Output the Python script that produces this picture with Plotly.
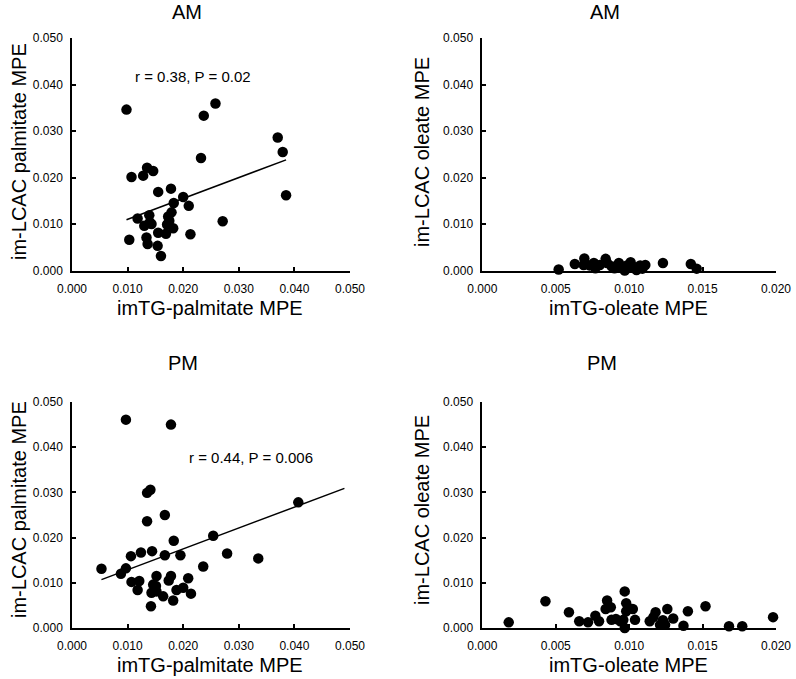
import plotly.graph_objects as go

W, H = 796, 679

# ---------------- data ----------------
am_pal_x = [0.0098, 0.0258, 0.0237, 0.0370, 0.0379, 0.0232, 0.0385, 0.0107, 0.0128, 0.0135,
            0.0146, 0.0155, 0.0178, 0.0200, 0.0183, 0.0210, 0.0118, 0.0139, 0.0179, 0.0173,
            0.0130, 0.0143, 0.0171, 0.0182, 0.0271, 0.0155, 0.0169, 0.0213, 0.0103, 0.0134,
            0.0136, 0.0154, 0.0160, 0.0140, 0.0175]
am_pal_y = [0.0346, 0.0359, 0.0333, 0.0286, 0.0255, 0.0242, 0.0162, 0.0201, 0.0204, 0.0221,
            0.0214, 0.0169, 0.0176, 0.0158, 0.0145, 0.0139, 0.0112, 0.0119, 0.0125, 0.0116,
            0.0096, 0.0100, 0.0099, 0.0091, 0.0106, 0.0081, 0.0079, 0.0078, 0.0066, 0.0071,
            0.0057, 0.0053, 0.0031, 0.0104, 0.0107]
am_pal_fit_x = [0.0098, 0.0385]
am_pal_fit_y = [0.0109, 0.0238]

am_ole_x = [0.0052, 0.0063, 0.00695, 0.0069, 0.0076, 0.0077, 0.0084, 0.0085, 0.0088, 0.0093,
            0.0095, 0.0097, 0.0101, 0.0103, 0.01075, 0.0109, 0.0111, 0.0123, 0.0142, 0.0146,
            0.0073, 0.0080, 0.0090, 0.0105, 0.00985]
am_ole_y = [0.0002, 0.0014, 0.0026, 0.0012, 0.0016, 0.0005, 0.0025, 0.0016, 0.0009, 0.0016,
            0.0007, 0.0000, 0.0018, 0.0007, 0.0011, 0.0004, 0.0012, 0.0016, 0.0014, 0.0004,
            0.0011, 0.0012, 0.0005, 0.0001, 0.0011]

pm_pal_x = [0.0097, 0.0178, 0.0141, 0.0135, 0.0167, 0.0135, 0.0407, 0.0254, 0.0183, 0.0279,
            0.0335, 0.0106, 0.0124, 0.0144, 0.0167, 0.0195, 0.0236, 0.0053, 0.0097, 0.0088,
            0.0107, 0.0121, 0.0152, 0.0178, 0.0174, 0.0209, 0.0118, 0.0146, 0.0151, 0.0143,
            0.0152, 0.0164, 0.0182, 0.0188, 0.0200, 0.0214, 0.0142]
pm_pal_y = [0.0461, 0.0450, 0.0306, 0.0299, 0.0250, 0.0236, 0.0278, 0.0204, 0.0193, 0.0165,
            0.0154, 0.0159, 0.0167, 0.0170, 0.0161, 0.0161, 0.0136, 0.0131, 0.0132, 0.0120,
            0.0102, 0.0104, 0.0115, 0.0115, 0.0105, 0.0110, 0.0084, 0.0096, 0.0093, 0.0078,
            0.0081, 0.0070, 0.0061, 0.0084, 0.0089, 0.0076, 0.0048]
pm_pal_fit_x = [0.0053, 0.0490]
pm_pal_fit_y = [0.0107, 0.0309]

pm_ole_x = [0.0018, 0.0043, 0.0059, 0.0066, 0.0072, 0.0077, 0.00795, 0.0085, 0.0084, 0.00875,
            0.0088, 0.0091, 0.0097, 0.0098, 0.00995, 0.01025, 0.0098, 0.0104, 0.0097, 0.0096,
            0.0114, 0.0118, 0.01165, 0.0121, 0.0123, 0.01245, 0.0126, 0.0130, 0.0137, 0.0140,
            0.0152, 0.0168, 0.0177, 0.0198, 0.0094]
pm_ole_y = [0.00125, 0.0059, 0.0035, 0.0015, 0.00125, 0.0027, 0.0015, 0.0061, 0.0042, 0.0046,
            0.0018, 0.0020, 0.0081, 0.0055, 0.0044, 0.0042, 0.0037, 0.0018, 0.0000, 0.0018,
            0.0015, 0.0035, 0.0024, 0.0007, 0.0017, 0.0007, 0.0042, 0.0021, 0.0005, 0.0037,
            0.0048, 0.0004, 0.0004, 0.0024, 0.0015]

titles = ["AM", "AM", "PM", "PM"]
x_titles = ["imTG-palmitate MPE", "imTG-oleate MPE", "imTG-palmitate MPE", "imTG-oleate MPE"]
y_titles = ["im-LCAC palmitate MPE", "im-LCAC oleate MPE", "im-LCAC palmitate MPE", "im-LCAC oleate MPE"]
stats_text = ["r = 0.38, P = 0.02", "r = 0.44, P = 0.006"]

pal_ticks = [0.0, 0.01, 0.02, 0.03, 0.04, 0.05]
ole_ticks = [0.0, 0.005, 0.01, 0.015, 0.02]
y_ticks = [0.0, 0.01, 0.02, 0.03, 0.04, 0.05]

# ---------------- layout helpers ----------------
FONT = "Liberation Sans, Arial, sans-serif"

def px(x):
    return x / W

def py(y):
    return 1 - y / H

# panel pixel boxes: (left, right, top, bottom)
boxes = [(72, 350, 38, 270.5), (482.3, 776, 38, 270.5),
         (72, 350, 402, 628), (482.3, 776, 402, 628)]

fig = go.Figure()

series = [(am_pal_x, am_pal_y), (am_ole_x, am_ole_y), (pm_pal_x, pm_pal_y), (pm_ole_x, pm_ole_y)]
for i, (xs, ys) in enumerate(series):
    sfx = "" if i == 0 else str(i + 1)
    fig.add_trace(go.Scatter(x=xs, y=ys, mode="markers", xaxis="x" + sfx, yaxis="y" + sfx,
                             marker=dict(color="black", size=10.5, line=dict(width=0)),
                             cliponaxis=False, showlegend=False))

fig.add_trace(go.Scatter(x=am_pal_fit_x, y=am_pal_fit_y, mode="lines", xaxis="x", yaxis="y",
                         line=dict(color="black", width=1.5), showlegend=False))
fig.add_trace(go.Scatter(x=pm_pal_fit_x, y=pm_pal_fit_y, mode="lines", xaxis="x3", yaxis="y3",
                         line=dict(color="black", width=1.5), showlegend=False))

layout = dict(width=W, height=H, margin=dict(l=0, r=0, t=0, b=0),
              plot_bgcolor="white", paper_bgcolor="white",
              font=dict(family=FONT, color="black"), showlegend=False)

annotations = []
for i, (l, r, t, b) in enumerate(boxes):
    sfx = "" if i == 0 else str(i + 1)
    xt = pal_ticks if i % 2 == 0 else ole_ticks
    common = dict(showline=True, linecolor="black", linewidth=1.5, mirror=False,
                  ticks="inside", ticklen=4, tickwidth=1.5, tickcolor="black",
                  showgrid=False, zeroline=False, tickformat=".3f", automargin=False,
                  tickfont=dict(family=FONT, size=12, color="black"), fixedrange=True)
    layout["xaxis" + sfx] = dict(domain=[px(l), px(r)], range=[xt[0], xt[-1]], tickvals=xt,
                                 anchor="y" + sfx, ticklabelstandoff=6, **common)
    layout["yaxis" + sfx] = dict(domain=[py(b), py(t)], range=[y_ticks[0], y_ticks[-1]],
                                 tickvals=y_ticks, anchor="x" + sfx, ticklabelstandoff=5, **common)

title_pos = [(186.7, 12), (605, 12), (183.3, 363), (601.6, 363)]
xt_pos = [(210, 308), (628, 308), (210, 665), (628, 665)]
yt_pos = [(19, 152), (422, 152), (19, 510), (422, 510)]
for i in range(4):
    annotations.append(dict(text=titles[i], x=px(title_pos[i][0]), y=py(title_pos[i][1]),
                            xref="paper", yref="paper", showarrow=False,
                            xanchor="center", yanchor="middle",
                            font=dict(family=FONT, size=20, color="black")))
    annotations.append(dict(text=x_titles[i], x=px(xt_pos[i][0]), y=py(xt_pos[i][1]),
                            xref="paper", yref="paper", showarrow=False,
                            xanchor="center", yanchor="middle",
                            font=dict(family=FONT, size=20, color="black")))
    annotations.append(dict(text=y_titles[i], x=px(yt_pos[i][0]), y=py(yt_pos[i][1]),
                            xref="paper", yref="paper", showarrow=False, textangle=-90,
                            xanchor="center", yanchor="middle",
                            font=dict(family=FONT, size=20, color="black")))

stat_pos = [(193.3, 76.7), (250.7, 457.3)]
for s, (x, y) in zip(stats_text, stat_pos):
    annotations.append(dict(text=s, x=px(x), y=py(y), xref="paper", yref="paper",
                            showarrow=False, xanchor="center", yanchor="middle",
                            font=dict(family=FONT, size=15, color="black")))

layout["annotations"] = annotations
fig.update_layout(**layout)
fig.write_html("out.html", config={"displayModeBar": False},
               post_script="document.body.style.margin='0';document.body.style.overflow='hidden';")
